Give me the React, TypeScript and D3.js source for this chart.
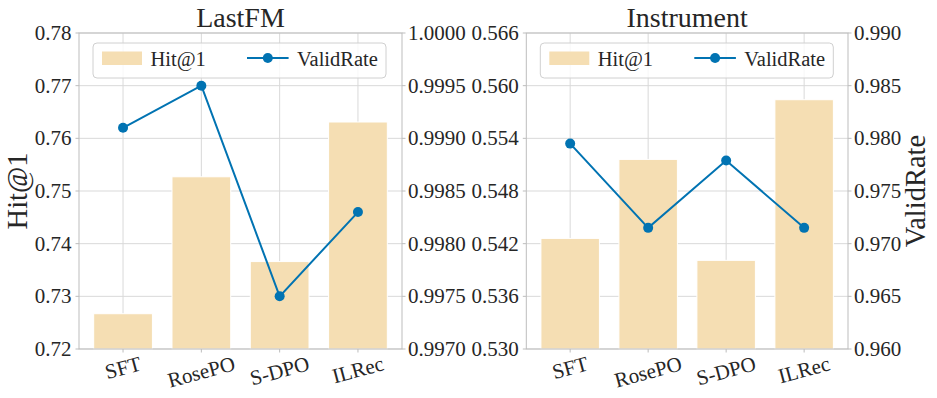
import React from "react";
import * as d3 from "d3";

const W = 937;
const H = 398;
const FONT = "'Liberation Serif', 'Times New Roman', serif";

// categories
const methods = ["SFT", "RosePO", "S-DPO", "ILRec"];

// LastFM
const lastfmHit = [0.7267, 0.7527, 0.7366, 0.7631];
const lastfmValid = [0.9991, 0.9995, 0.9975, 0.9983];
const lastfmHitTicks = [0.72, 0.73, 0.74, 0.75, 0.76, 0.77, 0.78];
const lastfmValidTicks = [0.997, 0.9975, 0.998, 0.9985, 0.999, 0.9995, 1.0];

// Instrument
const instrHit = [0.5426, 0.5516, 0.5401, 0.5584];
const instrValid = [0.9795, 0.9715, 0.9779, 0.9715];
const instrHitTicks = [0.53, 0.536, 0.542, 0.548, 0.554, 0.56, 0.566];
const instrValidTicks = [0.96, 0.965, 0.97, 0.975, 0.98, 0.985, 0.99];

const BAR = "#f5deb3";
const LINE = "#0173b2";
const GRID = "#d9d9d9";
const SPINE = "#bdbdbd";
const TEXT = "#262626";

const panels = [
  {
    title: "LastFM",
    left: 79, right: 402, top: 33, bottom: 349,
    hit: lastfmHit, valid: lastfmValid,
    hitTicks: lastfmHitTicks, validTicks: lastfmValidTicks,
    hitFmt: d3.format(".2f"), validFmt: d3.format(".4f"),
    showLeftLabel: true, showRightLabel: false,
  },
  {
    title: "Instrument",
    left: 526.3, right: 848, top: 33, bottom: 349,
    hit: instrHit, valid: instrValid,
    hitTicks: instrHitTicks, validTicks: instrValidTicks,
    hitFmt: d3.format(".3f"), validFmt: d3.format(".3f"),
    showLeftLabel: false, showRightLabel: true,
  },
];

let ctx: CanvasRenderingContext2D | null = null;
function textWidth(s: string, size: number) {
  if (!ctx) ctx = document.createElement("canvas").getContext("2d");
  if (!ctx) return s.length * size * 0.5;
  ctx.font = `${size}px 'Liberation Serif'`;
  return ctx.measureText(s).width;
}

function Panel({ p }: { p: (typeof panels)[number] }) {
  const barW = 0.75;
  // matplotlib-like xlim for bars with 5% margin
  const span = methods.length - 1 + barW;
  const x = d3
    .scaleLinear()
    .domain([-barW / 2 - span * 0.05, methods.length - 1 + barW / 2 + span * 0.05])
    .range([p.left, p.right]);
  const yL = d3
    .scaleLinear()
    .domain([p.hitTicks[0], p.hitTicks[p.hitTicks.length - 1]])
    .range([p.bottom, p.top]);
  const yR = d3
    .scaleLinear()
    .domain([p.validTicks[0], p.validTicks[p.validTicks.length - 1]])
    .range([p.bottom, p.top]);
  const unit = x(1) - x(0);

  const line = d3
    .line<number>()
    .x((_, i) => x(i))
    .y((d) => yR(d));

  const cy = (p.top + p.bottom) / 2;
  const lx = p.left + 14;
  const ly = p.top + 10;
  const rot = (15 * Math.PI) / 180;

  return (
    <g>
      {/* grid */}
      {p.hitTicks.map((t) => (
        <line key={"h" + t} x1={p.left} x2={p.right} y1={yL(t)} y2={yL(t)} stroke={GRID} strokeWidth={1} />
      ))}
      {methods.map((m, i) => (
        <line key={"v" + m} x1={x(i)} x2={x(i)} y1={p.top} y2={p.bottom} stroke={GRID} strokeWidth={1} />
      ))}

      {/* bars */}
      {p.hit.map((v, i) => (
        <rect
          key={"b" + i}
          x={x(i) - (unit * barW) / 2}
          y={yL(v)}
          width={unit * barW}
          height={p.bottom - yL(v)}
          fill={BAR}
          stroke="#fff"
          strokeWidth={1}
        />
      ))}

      {/* spines */}
      <rect x={p.left} y={p.top} width={p.right - p.left} height={p.bottom - p.top} fill="none" stroke={SPINE} strokeWidth={1} />

      {/* left ticks */}
      {p.hitTicks.map((t) => (
        <g key={"lt" + t}>
          <line x1={p.left - 3.5} x2={p.left} y1={yL(t)} y2={yL(t)} stroke={SPINE} />
          <text x={p.left - 7.5} y={yL(t)} textAnchor="end" dominantBaseline="central" fontSize={21} fill={TEXT}>
            {p.hitFmt(t)}
          </text>
        </g>
      ))}
      {/* right ticks */}
      {p.validTicks.map((t) => (
        <g key={"rt" + t}>
          <line x1={p.right} x2={p.right + 3.5} y1={yR(t)} y2={yR(t)} stroke={SPINE} />
          <text x={p.right + 6} y={yR(t)} textAnchor="start" dominantBaseline="central" fontSize={21} fill={TEXT}>
            {p.validFmt(t)}
          </text>
        </g>
      ))}
      {/* x ticks */}
      {methods.map((m, i) => {
        const w = textWidth(m, 21);
        const hgt = w * Math.sin(rot) + 21 * 0.8 * Math.cos(rot);
        const tx = x(i);
        const ty = p.bottom + 6 + hgt / 2;
        return (
          <g key={"xt" + m}>
            <line x1={tx} x2={tx} y1={p.bottom} y2={p.bottom + 3.5} stroke={SPINE} />
            <text
              x={tx}
              y={ty}
              textAnchor="middle"
              dominantBaseline="central"
              fontSize={21}
              fill={TEXT}
              transform={`rotate(-15 ${tx} ${ty})`}
            >
              {m}
            </text>
          </g>
        );
      })}

      {/* validity line */}
      <path d={line(p.valid) || ""} fill="none" stroke={LINE} strokeWidth={2} />
      {p.valid.map((v, i) => (
        <circle key={"c" + i} cx={x(i)} cy={yR(v)} r={5} fill={LINE} />
      ))}

      {/* title */}
      <text x={(p.left + p.right) / 2} y={27} textAnchor="middle" fontSize={28} fill={TEXT}>
        {p.title}
      </text>

      {/* axis labels */}
      {p.showLeftLabel && (
        <text x={17} y={cy} textAnchor="middle" dominantBaseline="central" fontSize={28.5} fill={TEXT} transform={`rotate(-90 17 ${cy})`}>
          Hit@1
        </text>
      )}
      {p.showRightLabel && (
        <text x={915} y={cy} textAnchor="middle" dominantBaseline="central" fontSize={28.5} fill={TEXT} transform={`rotate(-90 915 ${cy})`}>
          ValidRate
        </text>
      )}

      {/* legend */}
      <g>
        <rect x={lx} y={ly} width={293} height={35} rx={4} fill="#fff" fillOpacity={0.8} stroke="#d0d0d0" strokeWidth={1} />
        <rect x={lx + 9} y={ly + 8.5} width={40} height={13.5} fill={BAR} />
        <text x={lx + 57.5} y={ly + 16} dominantBaseline="central" fontSize={20.5} fill={TEXT}>
          Hit@1
        </text>
        <line x1={lx + 154} x2={lx + 195.6} y1={ly + 15} y2={ly + 15} stroke={LINE} strokeWidth={2} />
        <circle cx={lx + 174.8} cy={ly + 15} r={5} fill={LINE} />
        <text x={lx + 204} y={ly + 16} dominantBaseline="central" fontSize={20.5} fill={TEXT}>
          ValidRate
        </text>
      </g>
    </g>
  );
}

export default function App() {
  return (
    <svg
      width={W}
      height={H}
      style={{ position: "absolute", left: 0, top: 0, background: "#fff" }}
      fontFamily={FONT}
    >
      <rect width={W} height={H} fill="#fff" />
      {panels.map((p) => (
        <Panel key={p.title} p={p} />
      ))}
    </svg>
  );
}
